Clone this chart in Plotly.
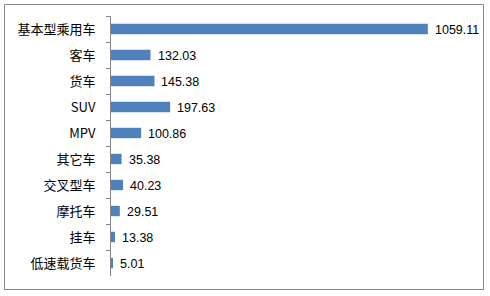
import plotly.graph_objects as go

categories = ["基本型乘用车", "客车", "货车", "SUV", "MPV", "其它车", "交叉型车", "摩托车", "挂车", "低速载货车"]
values = [1059.11, 132.03, 145.38, 197.63, 100.86, 35.38, 40.23, 29.51, 13.38, 5.01]
labels = ["1059.11", "132.03", "145.38", "197.63", "100.86", "35.38", "40.23", "29.51", "13.38", "5.01"]

W, H = 490, 296
L, R, T, B = 111, 20, 16, 20
pw, ph = W - L - R, H - T - B

def px(x):
    return (x - L) / pw

def py(y):
    return (H - B - y) / ph

fig = go.Figure(go.Bar(
    x=values, y=categories, orientation="h",
    marker=dict(color="#4F81BD", line=dict(width=0)),
    cliponaxis=False,
))

annotations = [dict(x=v, y=c, xref="x", yref="y", text=t, showarrow=False,
                    xanchor="left", yanchor="middle", xshift=5, yshift=-1,
                    font=dict(family="Liberation Sans", size=12.5, color="#000000"))
               for v, c, t in zip(values, categories, labels)]

fig.update_layout(
    width=W, height=H,
    margin=dict(l=L, r=R, t=T, b=B),
    paper_bgcolor="white", plot_bgcolor="white",
    bargap=0.6, showlegend=False,
    font=dict(family="Noto Sans CJK SC", size=12, color="#000000"),
    xaxis=dict(range=[0, 1200], visible=False, showgrid=False, zeroline=False),
    yaxis=dict(autorange="reversed", type="category", showline=True, linecolor="#868686",
               linewidth=1, ticks="outside", ticklen=4, tickcolor="#868686",
               tickson="boundaries", showgrid=False, ticklabelstandoff=12,
               tickfont=dict(family="Noto Sans CJK SC", size=13, color="#000000")),
    annotations=annotations,
    shapes=[dict(type="rect", xref="paper", yref="paper",
                 x0=px(4.5), x1=px(483.5), y0=py(289.5), y1=py(4.5),
                 line=dict(color="#868686", width=1), fillcolor="rgba(0,0,0,0)", layer="below")],
)

fig.write_html("out.html")
